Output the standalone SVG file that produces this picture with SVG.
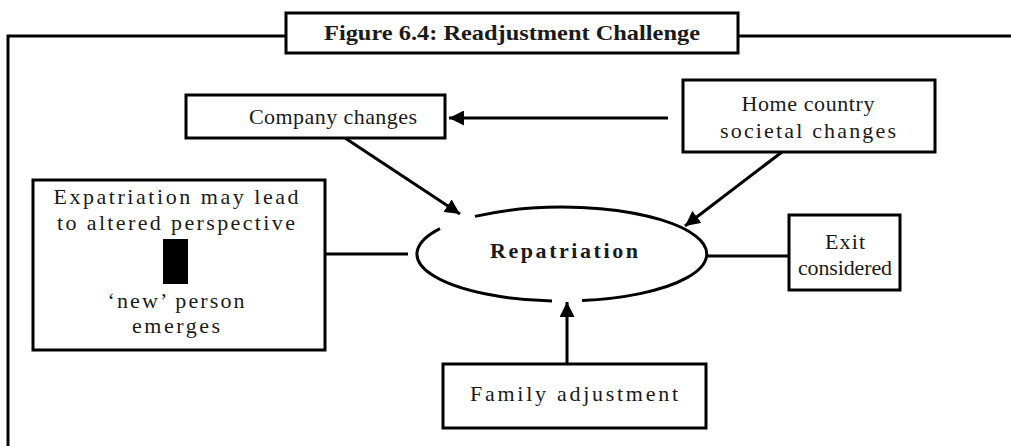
<svg xmlns="http://www.w3.org/2000/svg" width="1011" height="446" viewBox="0 0 1011 446">
<defs>
<style>
.box{fill:#fff;stroke:#000;stroke-width:3}
.ln{fill:none;stroke:#000;stroke-width:3}
.t{font-family:"Liberation Serif","DejaVu Serif",serif;font-size:22px;fill:#1a1a1a;text-anchor:middle}
.b{font-weight:bold}
</style>
<marker id="ah" viewBox="0 0 10 10" refX="10" refY="5" markerWidth="5" markerHeight="5" markerUnits="strokeWidth" orient="auto">
<path d="M0,0 L10,5 L0,10 Z" fill="#000"/>
</marker>
</defs>
<g id="frame">
<path class="ln" d="M8,446 V36 H286 M738,36 H1011"/>
</g>
<g id="title">
<rect class="box" x="286" y="13" width="452" height="40"/>
<text class="t b" x="512" y="40" font-size="22" textLength="376" lengthAdjust="spacingAndGlyphs">Figure 6.4: Readjustment Challenge</text>
</g>
<g id="connectors">
<line class="ln" x1="668" y1="118" x2="449" y2="118" marker-end="url(#ah)"/>
<line class="ln" x1="345" y1="138" x2="460" y2="214" marker-end="url(#ah)"/>
<line class="ln" x1="782" y1="152" x2="685" y2="226" marker-end="url(#ah)"/>
<line class="ln" x1="567" y1="364" x2="567" y2="302" marker-end="url(#ah)"/>
<line class="ln" x1="325" y1="254" x2="408" y2="254"/>
<line class="ln" x1="708" y1="256" x2="789" y2="256"/>
</g>
<g id="company">
<rect class="box" x="186" y="95" width="259" height="43"/>
<text class="t" x="333" y="124" textLength="168" lengthAdjust="spacing">Company changes</text>
</g>
<g id="home">
<rect class="box" x="683" y="80" width="252" height="72"/>
<text class="t" x="808" y="111" textLength="133" lengthAdjust="spacing">Home country</text>
<text class="t" x="808" y="138" textLength="176" lengthAdjust="spacing">societal changes</text>
</g>
<g id="expat">
<rect class="box" x="33" y="180" width="292" height="170"/>
<text class="t" x="176" y="204" textLength="245" lengthAdjust="spacing">Expatriation may lead</text>
<text class="t" x="176" y="230" textLength="238" lengthAdjust="spacing">to altered perspective</text>
<rect x="163" y="239" width="25" height="45" fill="#000"/>
<text class="t" x="176" y="308" textLength="137" lengthAdjust="spacing">‘new’ person</text>
<text class="t" x="176" y="333" textLength="88" lengthAdjust="spacing">emerges</text>
</g>
<g id="repatriation">
<path class="ln" d="M475,216.4 A145,47 0 1 1 582,300.6 M552,300.9 A145,47 0 0 1 440,228.6"/>
<text class="t b" x="564" y="258" font-size="18" textLength="148" lengthAdjust="spacing">Repatriation</text>
</g>
<g id="exit">
<rect class="box" x="789" y="215" width="111" height="75"/>
<text class="t" x="845" y="249" textLength="40" lengthAdjust="spacing">Exit</text>
<text class="t" x="845" y="275" textLength="94" lengthAdjust="spacing">considered</text>
</g>
<g id="family">
<rect class="box" x="443" y="364" width="263" height="64"/>
<text class="t" x="574" y="401" textLength="208" lengthAdjust="spacing">Family adjustment</text>
</g>
</svg>
